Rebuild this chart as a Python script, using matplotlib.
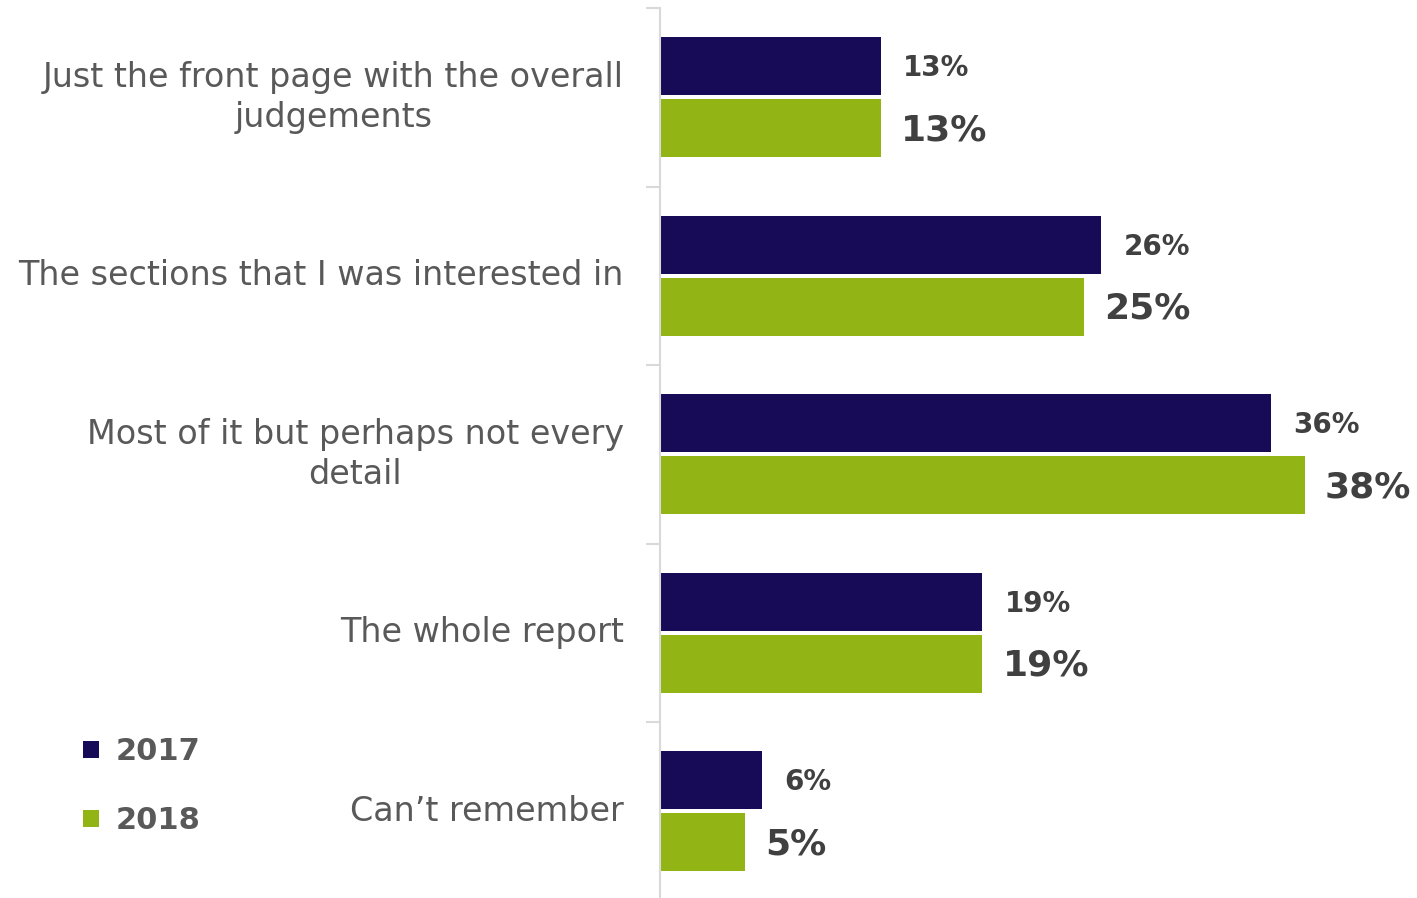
import numpy as np
import matplotlib.pyplot as plt

categories = [
    "Just the front page with the overall\njudgements",
    "The sections that I was interested in",
    "Most of it but perhaps not every\ndetail",
    "The whole report",
    "Can\u2019t remember",
]
values_2017 = [13, 26, 36, 19, 6]
values_2018 = [13, 25, 38, 19, 5]
years = ["2017", "2018"]

navy = "#170a57"
green = "#92b414"
text_grey = "#595959"
label_grey = "#404040"
axis_grey = "#d9d9d9"

plt.rcParams['font.family'] = ['DejaVu Sans']

fig = plt.figure(figsize=(14.17, 8.98), dpi=100)
ax = fig.add_axes([660 / 1417, -2.5 / 898, 757 / 1417, 892.5 / 898])

y = np.arange(len(categories))
h = 0.325
gap = 0.011
b1 = ax.barh(y - h / 2 - gap, values_2017, height=h, color=navy, label=years[0])
b2 = ax.barh(y + h / 2 + gap, values_2018, height=h, color=green, label=years[1])

ax.set_xlim(0, 44.6)
ax.set_ylim(len(categories) - 0.5, -0.5)

for rect, v in zip(b1, values_2017):
    ax.annotate(f"{v}%", (rect.get_width(), rect.get_y() + rect.get_height() / 2),
                xytext=(22, -2), textcoords="offset pixels", va="center", ha="left",
                fontsize=20, fontweight="bold", color=label_grey)
for rect, v in zip(b2, values_2018):
    ax.annotate(f"{v}%", (rect.get_width(), rect.get_y() + rect.get_height() / 2),
                xytext=(20, -2), textcoords="offset pixels", va="center", ha="left",
                fontsize=26, fontweight="bold", color=label_grey)

# category labels, right-aligned against the axis, lines centred
for yi, cat in zip(y, categories):
    ax.annotate(cat, (0, yi), xytext=(-36, 0), textcoords="offset pixels",
                ha="right", va="center", multialignment="center",
                fontsize=24, color=text_grey, linespacing=1.25,
                annotation_clip=False)

ax.set_yticks(np.arange(len(categories) + 1) - 0.5)
ax.set_yticklabels([])
ax.tick_params(axis="y", length=10, width=1.5, color=axis_grey)
ax.set_xticks([])
for s in ["top", "right", "bottom"]:
    ax.spines[s].set_visible(False)
ax.spines["left"].set_color(axis_grey)
ax.spines["left"].set_linewidth(1.5)

leg = fig.legend(handles=[b1, b2], labels=years, loc="upper left",
                 bbox_to_anchor=(55 / 1417, 1 - 710 / 898), frameon=False,
                 handlelength=0.55, handleheight=0.45, handletextpad=0.55,
                 labelspacing=1.3, prop={"size": 22, "weight": "bold"})
for t in leg.get_texts():
    t.set_color(text_grey)

fig.savefig("out.png", dpi=100)
